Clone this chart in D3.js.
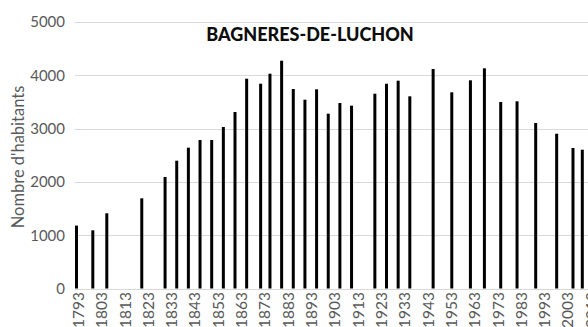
<!DOCTYPE html>
<html>
<head>
<meta charset="utf-8">
<script src="https://cdn.jsdelivr.net/npm/d3@7"></script>
<style>
  html, body { margin: 0; padding: 0; background: #fff; overflow: hidden; }
  svg { display: block; }
</style>
</head>
<body>
<svg id="chart" width="588" height="327"></svg>
<script>
// Population of Bagnères-de-Luchon by census year
const years = [1793, 1800, 1806, 1821, 1831, 1836, 1841, 1846, 1851, 1856, 1861, 1866,
  1872, 1876, 1881, 1886, 1891, 1896, 1901, 1906, 1911, 1921, 1926, 1931, 1936,
  1946, 1954, 1962, 1968, 1975, 1982, 1990, 1999, 2006, 2010];
const population = [1180, 1092, 1411, 1692, 2092, 2398, 2642, 2786, 2786, 3030, 3311, 3936,
  3842, 4030, 4274, 3743, 3542, 3737, 3280, 3480, 3430, 3655, 3842, 3899, 3606,
  4118, 3681, 3906, 4131, 3499, 3512, 3105, 2904, 2636, 2604];
const xTickYears = [1793, 1803, 1813, 1823, 1833, 1843, 1853, 1863, 1873, 1883, 1893,
  1903, 1913, 1923, 1933, 1943, 1953, 1963, 1973, 1983, 1993, 2003, 2013];
const yTicks = [0, 1000, 2000, 3000, 4000, 5000];
const title = "BAGNERES-DE-LUCHON";
const yTitle = "Nombre d'habitants";

const svg = d3.select("#chart");
const font = "Lato, 'Open Sans', sans-serif";

const x = d3.scaleLinear().domain([1793, 2013]).range([76.5, 589.3]);
const y = d3.scaleLinear().domain([0, 5000]).range([288.5, 22]);
const plotLeft = 75, plotRight = 620;

// horizontal gridlines
svg.append("g")
  .selectAll("line")
  .data(yTicks)
  .join("line")
  .attr("x1", plotLeft).attr("x2", plotRight)
  .attr("y1", d => Math.round(y(d)) + 0.5).attr("y2", d => Math.round(y(d)) + 0.5)
  .attr("stroke", "#d9d9d9").attr("stroke-width", 1);

// y axis labels
const yAxis = d3.axisLeft(y).tickValues(yTicks).tickSize(0).tickPadding(0).tickFormat(d3.format("d"));
const gy = svg.append("g").attr("transform", "translate(65,0)").call(yAxis);
gy.select(".domain").remove();
gy.selectAll("text")
  .attr("font-family", font).attr("font-size", "15px").attr("fill", "#595959");

// x axis labels, rotated
const xAxis = d3.axisBottom(x).tickValues(xTickYears).tickSize(0).tickPadding(0).tickFormat(d3.format("d"));
const gx = svg.append("g").attr("transform", "translate(0,289)").call(xAxis);
gx.select(".domain").remove();
gx.selectAll("text")
  .attr("font-family", font).attr("font-size", "15.5px").attr("fill", "#595959")
  .attr("text-anchor", "end")
  .attr("dy", "0.35em")
  .attr("transform", "translate(1.5,3) rotate(-90)")
  .attr("x", 0).attr("y", 0);

// bars
svg.append("g")
  .selectAll("rect")
  .data(years.map((yr, i) => ({ yr, v: population[i] })))
  .join("rect")
  .attr("x", d => x(d.yr) - 1.5)
  .attr("width", 3)
  .attr("y", d => y(d.v))
  .attr("height", d => y(0) - y(d.v))
  .attr("fill", "#000");

// title
svg.append("text")
  .attr("x", 310).attr("y", 41)
  .attr("text-anchor", "middle")
  .attr("font-family", font).attr("font-weight", "900").attr("font-size", "18px")
  .attr("fill", "#0d0d0d")
  .text(title);

// y axis title
svg.append("text")
  .attr("transform", "translate(24,157) rotate(-90)")
  .attr("text-anchor", "middle")
  .attr("font-family", font).attr("font-size", "16.5px").attr("fill", "#595959")
  .text(yTitle);
</script>
</body>
</html>
